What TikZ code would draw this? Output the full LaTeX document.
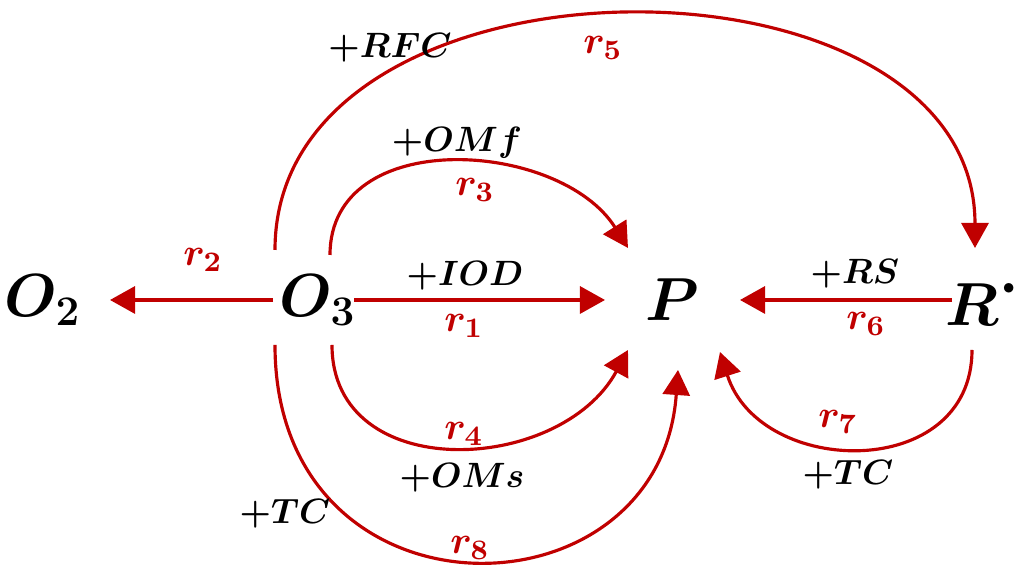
\documentclass[tikz,border=0pt]{standalone}
\usetikzlibrary{arrows.meta}
\definecolor{myred}{RGB}{192,0,0}
\tikzset{
  flow/.style={draw=myred, line width=0.9pt, -{Triangle[length=0.25cm,width=0.27cm]}},
  species/.style={inner sep=0pt, font=\fontsize{16.5}{20}\selectfont\boldmath},
  cond/.style={inner sep=0pt, font=\fontsize{10}{12}\selectfont\boldmath},
  rate/.style={inner sep=0pt, text=myred, font=\fontsize{11}{13}\selectfont\boldmath}
}
\begin{document}
\begin{tikzpicture}[x=0.01cm, y=0.01cm]
  \useasboundingbox (0,0) rectangle (1017,570);
  \node[species] (O2) at (43,270) {$O_2$};
  \node[species] (O3) at (318,270) {$O_3$};
  \node[species] (P) at (672,270) {$P$};
  \node[species] (R) at (983,270) {$R^{\textstyle\cdot}$};

  \draw[flow] ([shift={(-45,0)}]O3.center) -- ([shift={(67,0)}]O2.center);
  \draw[flow] ([shift={(36,0)}]O3.center) -- ([shift={(-67,0)}]P.center);
  \draw[flow] ([shift={(-31,0)}]R.center) -- ([shift={(68,0)}]P.center);
  \draw[flow] ([shift={(-43,50)}]O3.center) .. controls +(0,313) and +(0,311) .. ([shift={(-8,52)}]R.center);
  \draw[flow] ([shift={(12,45)}]O3.center) .. controls +(0,130) and +(-68,108) .. ([shift={(-44,52)}]P.center);
  \draw[flow] ([shift={(14,-45)}]O3.center) .. controls +(0,-140) and +(-68,-125) .. ([shift={(-44,-50)}]P.center);
  \draw[flow] ([shift={(-43,-45)}]O3.center) .. controls +(0,-285) and +(-18,-255) .. ([shift={(6,-70)}]P.center);
  \draw[flow] ([shift={(-11,-50)}]R.center) .. controls +(0,-132) and +(40,-126) .. ([shift={(48,-52)}]P.center);

  \node[cond] (cRFC) at (390,522) {$+RFC$};
  \node[rate] (r5) at (603,522) {$r_5$};
  \node[cond] (cOMf) at (457,427) {$+OMf$};
  \node[rate] (r3) at (475,380) {$r_3$};
  \node[cond] (cIOD) at (465,294) {$+IOD$};
  \node[rate] (r1) at (464,244) {$r_1$};
  \node[rate] (r2) at (203,310) {$r_2$};
  \node[cond] (cRS) at (855,296) {$+RS$};
  \node[rate] (r6) at (866,246) {$r_6$};
  \node[rate] (r7) at (838,148) {$r_7$};
  \node[cond] (cTCr) at (848,95) {$+TC$};
  \node[rate] (r4) at (464,136) {$r_4$};
  \node[cond] (cOMs) at (462,92) {$+OMs$};
  \node[cond] (cTCl) at (285,56) {$+TC$};
  \node[rate] (r8) at (470,22) {$r_8$};
\end{tikzpicture}
\end{document}
